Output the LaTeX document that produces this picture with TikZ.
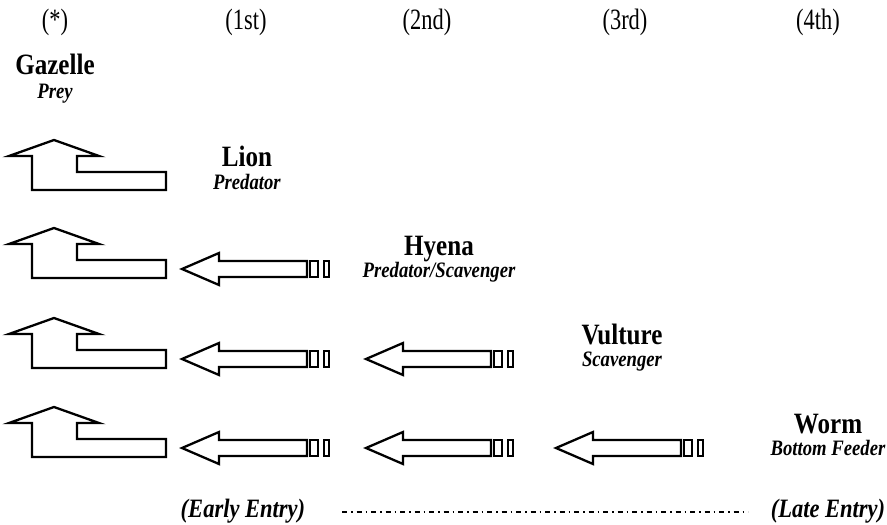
\documentclass[tikz,border=0pt]{standalone}
\usepackage{fontspec}
\setmainfont[FakeStretch=0.85]{Liberation Serif}
\newfontfamily\hdrfamily[FakeStretch=0.76]{Liberation Serif}
\tikzset{
  x=1pt, y=-1pt,
  shape line/.style={draw=black, line width=2.3pt, line join=miter, fill=white},
  hdr/.style={anchor=base, inner sep=0pt, font=\hdrfamily\fontsize{29.5}{34}\selectfont},
  ttl/.style={anchor=base, inner sep=0pt, font=\fontsize{29.5}{34}\selectfont\bfseries},
  sub/.style={anchor=base, inner sep=0pt, font=\fontsize{22}{26}\selectfont\bfseries\itshape},
  entry/.style={anchor=base, inner sep=0pt, font=\fontsize{26.5}{30}\selectfont\bfseries\itshape},
  uparrow/.pic={
    \draw[shape line] (54,-50) -- (9,-34) -- (32,-34) -- (32,0) -- (166,0) -- (166,-18)
      -- (77,-18) -- (77,-34) -- (99,-34) -- cycle;
  },
  leftarrow/.pic={
    \draw[shape line] (0,0) -- (37,-16) -- (37,-8) -- (125,-8) -- (125,8) -- (37,8) -- (37,16) -- cycle;
    \draw[shape line] (128,-8) rectangle (136,8);
    \draw[shape line] (142,-8) rectangle (147,8);
  }
}
\begin{document}
\begin{tikzpicture}
\useasboundingbox (0,0) rectangle (887,525);
% headers
\node[hdr] (h0) at (55,29) {(*)};
\node[hdr] (h1) at (246,29) {(1st)};
\node[hdr] (h2) at (427,29) {(2nd)};
\node[hdr] (h3) at (625,29) {(3rd)};
\node[hdr] (h4) at (818,29) {(4th)};
% labels
\node[ttl] (gazelle) at (55,74) {Gazelle};
\node[sub] (prey) at (55,98) {Prey};
\node[ttl] (lion) at (247,166) {Lion};
\node[sub] (lions) at (247,189) {Predator};
\node[ttl] (hyena) at (439,255) {Hyena};
\node[sub] (hyenas) at (439,277) {Predator/Scavenger};
\node[ttl] (vulture) at (622,344) {Vulture};
\node[sub] (vultures) at (622,366) {Scavenger};
\node[ttl] (worm) at (828,433) {Worm};
\node[sub] (worms) at (828,455) {Bottom Feeder};
% up-bent arrows
\pic at (0,190) {uparrow};
\pic at (0,278) {uparrow};
\pic at (0,368) {uparrow};
\pic at (0,457) {uparrow};
% left arrows
\pic at (182,269) {leftarrow};
\pic at (182,359) {leftarrow};
\pic at (366,359) {leftarrow};
\pic at (182,448) {leftarrow};
\pic at (366,448) {leftarrow};
\pic at (556,448) {leftarrow};
% bottom
\node[entry] (early) at (243,517) {(Early Entry)};
\node[entry] (late) at (828,517) {(Late Entry)};
\coordinate (l1) at (342,512);
\coordinate (l2) at (748,512);
\draw[line width=1.5pt, dash pattern=on 5pt off 4pt on 1.5pt off 4pt] (l1) -- (l2);
\end{tikzpicture}
\end{document}
